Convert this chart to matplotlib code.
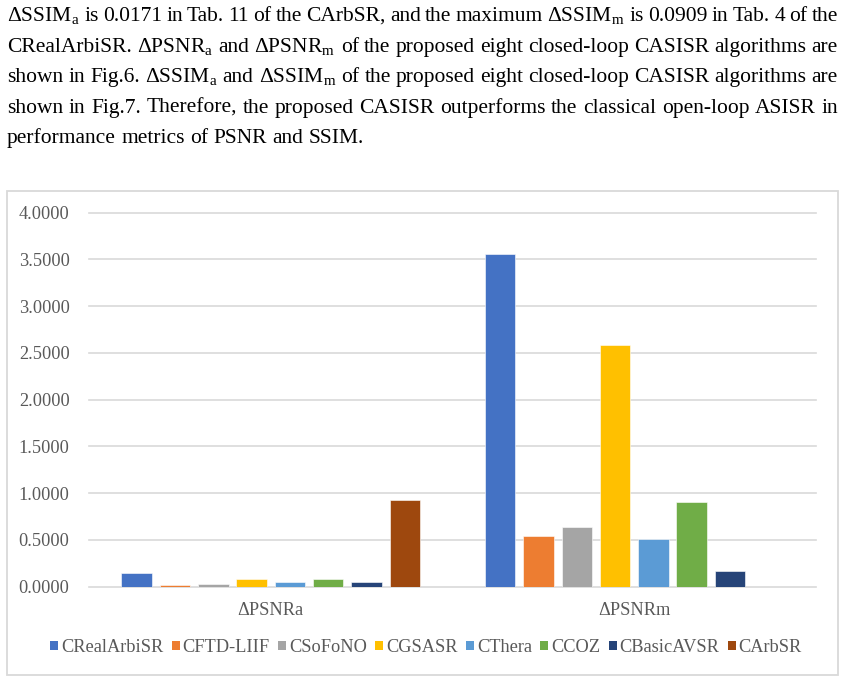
import matplotlib
matplotlib.use("Agg")
from matplotlib import pyplot as plt
from matplotlib.patches import Rectangle, Patch
import numpy as np

groups = ["ΔPSNRa", "ΔPSNRm"]
methods = ["CRealArbiSR", "CFTD-LIIF", "CSoFoNO", "CGSASR", "CThera", "CCOZ", "CBasicAVSR", "CArbSR"]
psnr_a = [0.150, 0.020, 0.030, 0.080, 0.045, 0.080, 0.050, 0.930]
psnr_m = [3.555, 0.542, 0.642, 2.585, 0.507, 0.909, 0.171, 0.0]
colors = ["#4472C4", "#ED7D31", "#A5A5A5", "#FFC000", "#5B9BD5", "#70AD47", "#264478", "#9E480E"]
yticks = [0, 0.5, 1.0, 1.5, 2.0, 2.5, 3.0, 3.5, 4.0]

paragraph = [
    "ΔSSIM$_\\mathrm{a}$ is 0.0171 in Tab. 11 of the CArbSR, and the maximum ΔSSIM$_\\mathrm{m}$ is 0.0909 in Tab. 4 of the",
    "CRealArbiSR. ΔPSNR$_\\mathrm{a}$ and ΔPSNR$_\\mathrm{m}$ of the proposed eight closed-loop CASISR algorithms are",
    "shown in Fig.6. ΔSSIM$_\\mathrm{a}$ and ΔSSIM$_\\mathrm{m}$ of the proposed eight closed-loop CASISR algorithms are",
    "shown in Fig.7. Therefore, the proposed CASISR outperforms the classical open-loop ASISR in",
    "performance metrics of PSNR and SSIM.",
]

plt.rcParams["font.family"] = ["Liberation Serif", "DejaVu Serif"]
plt.rcParams["mathtext.fontset"] = "custom"
plt.rcParams["mathtext.rm"] = "Liberation Serif"

W, H = 845, 682
fig = plt.figure(figsize=(W / 100, H / 100), dpi=100)
renderer = fig.canvas.get_renderer()

# paragraph, justified by hand
left, right = 7, 838
baselines = [21, 52, 82, 113, 143]
for i, line in enumerate(paragraph):
    words = line.split(" ")
    widths = []
    for w in words:
        t = fig.text(0, 0, w, fontsize=15.5)
        widths.append(t.get_window_extent(renderer).width)
        t.remove()
    if i < len(paragraph) - 1:
        gap = (right - left - sum(widths)) / (len(words) - 1)
    else:
        t = fig.text(0, 0, "a b", fontsize=15.5)
        t2 = fig.text(0, 0, "ab", fontsize=15.5)
        gap = t.get_window_extent(renderer).width - t2.get_window_extent(renderer).width
        t.remove(); t2.remove()
    x = left
    for w, wd in zip(words, widths):
        fig.text(x / W, 1 - baselines[i] / H, w, fontsize=15.5, va="baseline", ha="left", color="black")
        x += wd + gap

# chart frame
fig.patches.append(Rectangle((7 / W, 1 - 675 / H), (838 - 7) / W, (675 - 191) / H,
                             transform=fig.transFigure, fill=False, edgecolor="#d9d9d9", linewidth=1.3))

ax = fig.add_axes([89 / W, 1 - 586.7 / H, (816 - 89) / W, (586.7 - 212.7) / H])
x = np.arange(len(groups))
step = 0.1054
width = 0.084
for j, m in enumerate(methods):
    vals = [psnr_a[j], psnr_m[j]]
    ax.bar(x + (j - 3.5) * step, vals, width, color=colors[j], edgecolor="white", linewidth=0.4, zorder=3)

ax.set_xlim(-0.5, 1.5)
ax.set_ylim(0, 4)
ax.set_yticks(yticks)
ax.set_yticklabels(["%.4f" % v for v in yticks])
ax.set_xticks(x)
ax.set_xticklabels(groups)
ax.tick_params(axis="both", length=0, labelsize=13.2, labelcolor="#595959")
ax.tick_params(axis="y", pad=14)
ax.tick_params(axis="x", pad=11)
for s in ax.spines.values():
    s.set_visible(False)
ax.yaxis.grid(True, color="#d9d9d9", linewidth=1.2)
ax.set_axisbelow(True)
for gl in ax.get_ygridlines():
    gl.set_clip_on(False)

handles = [Patch(facecolor=c, edgecolor="none") for c in colors]
fig.legend(handles, methods, loc="center", bbox_to_anchor=(426 / W, 1 - 647.5 / H), ncol=8,
           frameon=False, fontsize=13.2, labelcolor="#595959", handlelength=0.45, handleheight=0.45,
           handletextpad=0.15, columnspacing=0.45, borderpad=0)

fig.savefig("out.png", dpi=100)
